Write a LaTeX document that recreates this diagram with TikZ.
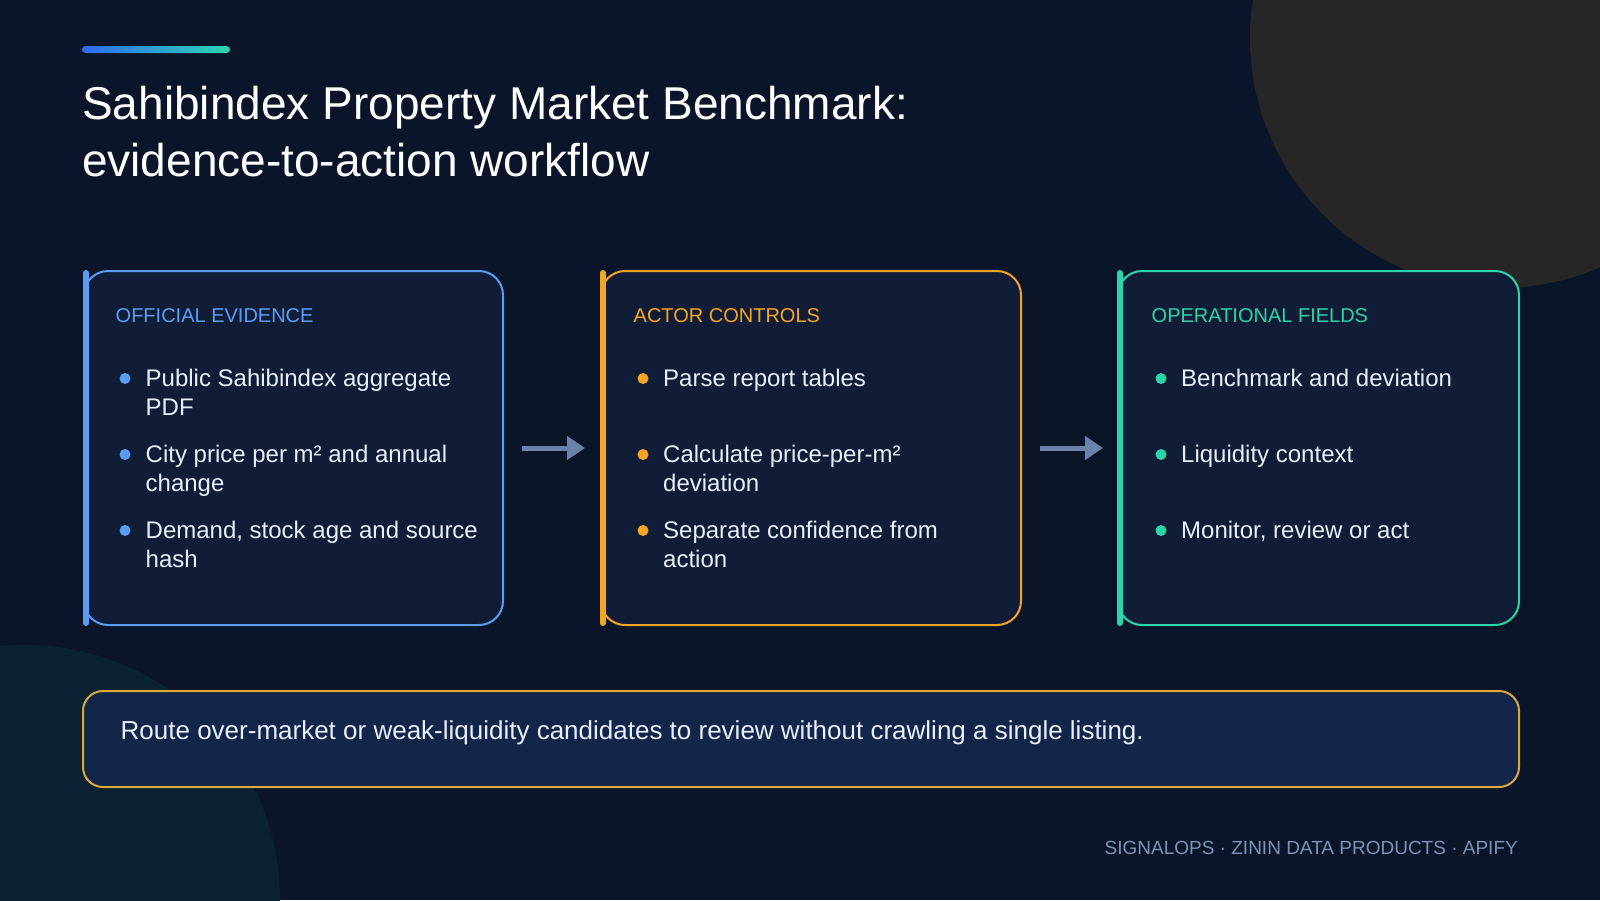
\documentclass[tikz,border=0pt]{standalone}
\usepackage{fontspec}
\setmainfont{Liberation Sans}
\usetikzlibrary{arrows.meta,calc}
\definecolor{bg}{HTML}{0A1529}
\definecolor{circTR}{HTML}{262626}
\definecolor{circBL}{HTML}{0B2232}
\definecolor{cardfill}{HTML}{111D37}
\definecolor{notefill}{HTML}{13264A}
\definecolor{accblue}{HTML}{5B9DF5}
\definecolor{accorange}{HTML}{F5A524}
\definecolor{accteal}{HTML}{2DD4A9}
\definecolor{gold}{HTML}{D9A93E}
\definecolor{arrowc}{HTML}{6B83AB}
\definecolor{bodytext}{HTML}{E8EFFC}
\definecolor{footc}{HTML}{7E93B6}
\definecolor{gradA}{HTML}{2F6BF0}
\definecolor{gradB}{HTML}{2DD4B0}
\newcommand{\cardlines}[1]{\begin{tabular}[t]{@{}l@{}}#1\end{tabular}}
\begin{document}
\begin{tikzpicture}[x=1pt,y=-1pt,
  card/.style={draw=#1, line width=2pt, fill=cardfill, rounded corners=24pt,
    minimum height=354pt, inner sep=0pt, anchor=north west},
  leftbar/.style={draw=#1, line width=6pt, line cap=round},
  head/.style={text=#1, font=\fontsize{20}{24}\selectfont, inner sep=0pt, anchor=base west},
  item/.style={text=bodytext, font=\fontsize{24}{29.5}\selectfont, inner sep=0pt, anchor=base west},
  dot/.style={circle, fill=#1, minimum size=11pt, inner sep=0pt},
  flow/.style={draw=arrowc, line width=5pt, -{Triangle[length=18pt,width=23pt]}}
]
\useasboundingbox (0,0) rectangle (1600,900);
\fill[bg] (0,0) rectangle (1600,900);
\fill[circTR] (1500,38) circle[radius=250pt];
\fill[circBL] (25,900) circle[radius=255pt];

% accent bar
\shade[left color=gradA, right color=gradB, rounded corners=3.5pt] (82,46) rectangle (230,53);

% title
\node[text=white, font=\fontsize{46}{56.5}\selectfont, inner sep=0pt, anchor=base west] (title) at (82,119.5)
  {\cardlines{Sahibindex Property Market Benchmark:\\evidence-to-action workflow}};

% cards
\node[card=accblue, minimum width=419pt] (c1) at (83,270) {};
\node[card=accorange, minimum width=420pt] (c2) at (600,270) {};
\node[card=accteal, minimum width=401pt] (c3) at (1117,270) {};
\draw[leftbar=accblue] ($(c1.north west)+(3,3)$) -- ($(c1.south west)+(3,-3)$);
\draw[leftbar=accorange] ($(c2.north west)+(3,3)$) -- ($(c2.south west)+(3,-3)$);
\draw[leftbar=accteal] ($(c3.north west)+(3,3)$) -- ($(c3.south west)+(3,-3)$);

% card 1
\node[head=accblue] (h1) at ($(c1.north west)+(32.5,52)$) {OFFICIAL EVIDENCE};
\node[dot=accblue] (d11) at ($(c1.north west)+(42,108.5)$) {};
\node[dot=accblue] (d12) at ($(c1.north west)+(42,184.5)$) {};
\node[dot=accblue] (d13) at ($(c1.north west)+(42,260.5)$) {};
\node[item] (t11) at ($(c1.north west)+(62.5,116)$) {\cardlines{Public Sahibindex aggregate\\PDF}};
\node[item] (t12) at ($(c1.north west)+(62.5,192)$) {\cardlines{City price per m² and annual\\change}};
\node[item] (t13) at ($(c1.north west)+(62.5,268)$) {\cardlines{Demand, stock age and source\\hash}};

% card 2
\node[head=accorange] (h2) at ($(c2.north west)+(33.5,52)$) {ACTOR CONTROLS};
\node[dot=accorange] (d21) at ($(c2.north west)+(43,108.5)$) {};
\node[dot=accorange] (d22) at ($(c2.north west)+(43,184.5)$) {};
\node[dot=accorange] (d23) at ($(c2.north west)+(43,260.5)$) {};
\node[item] (t21) at ($(c2.north west)+(63,116)$) {\cardlines{Parse report tables}};
\node[item] (t22) at ($(c2.north west)+(63,192)$) {\cardlines{Calculate price-per-m²\\deviation}};
\node[item] (t23) at ($(c2.north west)+(63,268)$) {\cardlines{Separate confidence from\\action}};

% card 3
\node[head=accteal] (h3) at ($(c3.north west)+(34.5,52)$) {OPERATIONAL FIELDS};
\node[dot=accteal] (d31) at ($(c3.north west)+(44,108.5)$) {};
\node[dot=accteal] (d32) at ($(c3.north west)+(44,184.5)$) {};
\node[dot=accteal] (d33) at ($(c3.north west)+(44,260.5)$) {};
\node[item] (t31) at ($(c3.north west)+(64,116)$) {\cardlines{Benchmark and deviation}};
\node[item] (t32) at ($(c3.north west)+(64,192)$) {\cardlines{Liquidity context}};
\node[item] (t33) at ($(c3.north west)+(64,268)$) {\cardlines{Monitor, review or act}};

% arrows
\draw[flow] ([xshift=18pt]c1.east) -- ([xshift=-15pt]c2.west);
\draw[flow] ([xshift=18pt]c2.east) -- ([xshift=-14pt]c3.west);

% note
\node[draw=gold, line width=2pt, fill=notefill, rounded corners=20pt, minimum width=1436pt,
  minimum height=96pt, inner sep=0pt, anchor=north west] (note) at (82,690) {};
\node[text=bodytext, font=\fontsize{26}{30}\selectfont, inner sep=0pt, anchor=base west] (notetext)
  at ($(note.north west)+(38.5,49)$)
  {Route over-market or weak-liquidity candidates to review without crawling a single listing.};

% footer
\node[text=footc, font=\fontsize{19}{22}\selectfont, inner sep=0pt, anchor=base east] (foot) at (1518,854)
  {SIGNALOPS · ZININ DATA PRODUCTS · APIFY};
\end{tikzpicture}
\end{document}
